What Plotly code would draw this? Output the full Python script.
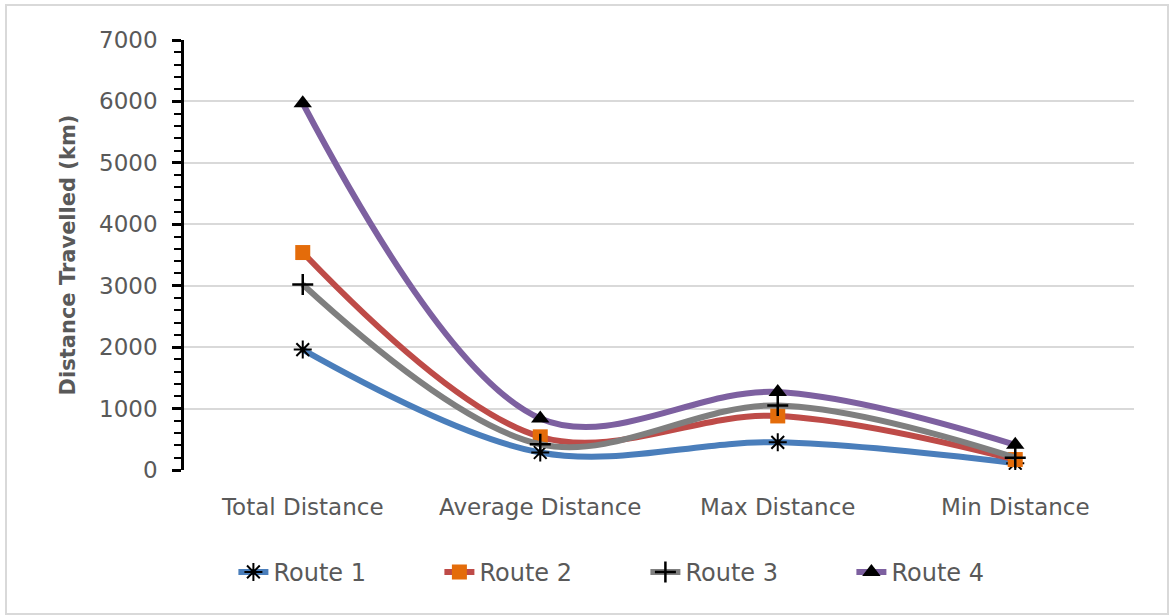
import plotly.graph_objects as go

# Distance metrics per route
categories = ["Total Distance", "Average Distance", "Max Distance", "Min Distance"]
route_names = ["Route 1", "Route 2", "Route 3", "Route 4"]
route1 = [1960, 285, 450, 110]
route2 = [3540, 540, 880, 170]
route3 = [3020, 420, 1050, 200]
route4 = [5970, 840, 1270, 410]

line_colors = ["#4A7EBB", "#BE4B48", "#7F7F7F", "#7D60A0"]
markers = [
    dict(symbol="asterisk-open", size=15, color="black", line=dict(color="black", width=2)),
    dict(symbol="square", size=15, color="#E46C0A", line=dict(width=0)),
    dict(symbol="cross-thin-open", size=15, color="black", line=dict(color="black", width=2.5)),
    dict(symbol="triangle-up", size=16, color="black", line=dict(width=0)),
]

fig = go.Figure()
for name, vals, col, mk in zip(route_names, [route1, route2, route3, route4], line_colors, markers):
    fig.add_trace(go.Scatter(
        x=categories, y=vals, name=name, mode="lines+markers",
        line=dict(color=col, width=6, shape="spline", smoothing=1.0),
        marker=mk,
    ))

L, R, T, B = 184, 36, 40, 146
W, H = 1170, 616
pw, ph = W - L - R, H - T - B
FONT = "DejaVu Sans, sans-serif"
GREY = "#595959"

fig.update_layout(
    width=W, height=H,
    margin=dict(l=L, r=R, t=T, b=B),
    paper_bgcolor="white", plot_bgcolor="white",
    font=dict(family=FONT, size=23, color=GREY),
    showlegend=True,
    legend=dict(
        orientation="h", x=0.052, xanchor="left", y=-0.238, yanchor="middle",
        font=dict(family=FONT, size=24, color=GREY),
        entrywidth=161, entrywidthmode="pixels",
        tracegroupgap=0,
    ),
    shapes=[dict(
        type="rect", xref="paper", yref="paper",
        x0=(6 - L) / pw, x1=(1168 - L) / pw,
        y0=-(614 - (H - B)) / ph, y1=1 + (T - 5) / ph,
        line=dict(color="#D9D9D9", width=2), fillcolor="rgba(0,0,0,0)", layer="below",
    )],
)

fig.update_xaxes(
    type="category", range=[-0.5, 3.5],
    showline=False, showgrid=False, ticks="",
    tickfont=dict(family=FONT, size=23, color=GREY),
    ticklabelstandoff=21,
)
fig.update_yaxes(
    range=[0, 7000], dtick=1000,
    showgrid=True, gridcolor="#D9D9D9", gridwidth=2,
    showline=True, linecolor="black", linewidth=2.5,
    ticks="outside", ticklen=9, tickwidth=2.5, tickcolor="black",
    minor=dict(dtick=200, ticks="outside", ticklen=7, tickwidth=2, tickcolor="black", showgrid=False),
    zeroline=False,
    tickfont=dict(family=FONT, size=23, color=GREY),
    ticklabelstandoff=10,
    title=dict(text="<b>Distance Travelled (km)</b>", font=dict(family=FONT, size=21, color=GREY), standoff=18),
)

fig.write_html("out.html")
